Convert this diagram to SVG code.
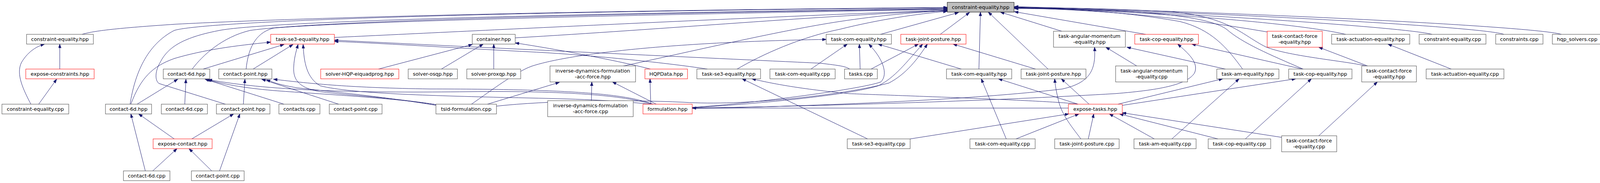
<svg xmlns="http://www.w3.org/2000/svg" width="4106" height="469" viewBox="0 0 4106 469">
<style>
.n rect{fill:#fff;stroke:#404040;stroke-width:1}
.n.r rect{stroke:#ff0000}
.n.t rect{fill:#bfbfbf;stroke:#000}
.n text{font-family:"DejaVu Sans","Liberation Sans",sans-serif;font-size:12.8px;fill:#000;text-anchor:middle}
#edges path{fill:none;stroke:#191970;stroke-width:1;marker-end:url(#a)}
</style>
<defs>
<marker id="a" markerUnits="userSpaceOnUse" markerWidth="11" markerHeight="8" refX="10" refY="3.5" orient="auto"><path d="M0,0L10,3.5L0,7z" fill="#191970" stroke="#191970" stroke-width="1"/></marker>
</defs>
<rect width="4106" height="469" fill="#fff"/>
<g id="edges">
<path d="M210,88 C240,79 300,72 450,62 C800,44 1500,27 2425,19"/>
<path d="M333,267 C345,190 375,115 446,78 C520,55 1200,30 2425,20"/>
<path d="M577,267 L407,214 C395,205 398,180 410,160 C430,120 470,95 567,77 C700,55 1400,35 2425,22"/>
<path d="M492,177 C520,140 570,95 640,78 C800,55 1500,35 2425,23"/>
<path d="M630,177 C635,130 650,85 700,72 C900,55 1600,38 2425,24"/>
<path d="M856,96 C1200,80 1900,45 2425,26"/>
<path d="M1319,97 C1700,75 2100,40 2425,27"/>
<path d="M1592,170 C1800,125 2000,78 2150,55 C2250,40 2350,30 2425,28"/>
<path d="M1887,177 C1950,140 2050,95 2150,75 C2250,50 2350,35 2425,29"/>
<path d="M2254,88 L2454,32"/>
<path d="M2407,88 L2482,32"/>
<path d="M2506,177 L2510,31"/>
<path d="M2683,177 L2530,31"/>
<path d="M2718,80 L2561,31"/>
<path d="M2933,88 L2597,30"/>
<path d="M3181,177 C3140,120 3100,75 3020,55 C2850,25 2700,22 2597,22"/>
<path d="M3336,177 C3250,140 3180,110 3140,75 C3080,30 2800,22 2597,21"/>
<path d="M3500,170 C3460,158 3300,145 3240,120 C3180,90 3150,45 3000,30 C2800,20 2700,20 2597,20"/>
<path d="M3245,82 C3000,40 2800,25 2597,20"/>
<path d="M3445,88 C3300,55 2900,28 2597,19"/>
<path d="M3666,88 C3600,70 3000,30 2597,18"/>
<path d="M3850,88 C3800,70 3200,35 2597,18"/>
<path d="M3997,88 C3940,70 3300,35 2597,17"/>
<path d="M153,177 L153,113"/>
<path d="M79,267 C60,230 40,190 55,160 C70,135 90,120 114,113"/>
<path d="M99,267 L145,203"/>
<path d="M351,267 L455,203"/>
<path d="M473,267 L476,203"/>
<path d="M727,267 L525,203"/>
<path d="M623,267 L627,203"/>
<path d="M867,267 L670,203"/>
<path d="M335,267 C360,200 390,170 446,150 C520,128 600,117 693,108"/>
<path d="M520,177 L727,114"/>
<path d="M648,177 L750,114"/>
<path d="M1116,268 C1000,250 800,240 700,232 C620,225 570,215 530,204"/>
<path d="M1668,267 C1600,245 1450,232 1200,235 C950,238 700,235 533,204"/>
<path d="M1116,270 C1000,250 850,235 760,225 C720,218 700,212 682,204"/>
<path d="M1672,267 C1600,240 1450,228 1100,228 C900,225 800,215 700,203"/>
<path d="M1116,268 C1000,250 900,245 820,235 C760,225 750,200 752,170 C753,150 757,135 763,114"/>
<path d="M1665,267 C1550,255 1450,253 1300,250 C1100,245 900,240 820,220 C785,200 778,160 776,114"/>
<path d="M1248,267 L1432,211"/>
<path d="M1207,267 C1260,230 1320,185 1360,170 C1450,140 1700,108 2115,101"/>
<path d="M1271,272 C1400,258 1600,255 1750,262 C1900,272 2150,245 2275,213 C2320,190 2350,150 2374,113"/>
<path d="M1772,276 C1850,272 2150,250 2248,220 C2290,200 2320,160 2362,113"/>
<path d="M1772,275 C1900,268 2200,230 2255,210 C2275,190 2260,150 2224,113"/>
<path d="M1772,278 C2100,272 2500,255 2720,228 C2790,212 2806,180 2802,121"/>
<path d="M1772,277 C2200,270 2600,255 2854,240 C2980,230 3040,215 3058,187 C3070,160 3040,135 3015,113"/>
<path d="M2735,277 L1772,277"/>
<path d="M1666,267 L1664,202"/>
<path d="M1680,267 L1568,210"/>
<path d="M1514,258 L1515,210"/>
<path d="M1665,177 C1600,160 1450,130 1319,110"/>
<path d="M969,177 L1209,114"/>
<path d="M1130,177 L1237,113"/>
<path d="M1264,177 L1264,113"/>
<path d="M1811,177 C1700,160 1500,140 1360,133 C1200,125 1000,112 856,106"/>
<path d="M2175,177 C2165,170 2150,168 2100,162 C1800,148 1300,125 856,103"/>
<path d="M2461,177 L2248,113"/>
<path d="M2076,177 L2169,113"/>
<path d="M2202,177 L2200,113"/>
<path d="M2230,177 L2351,113"/>
<path d="M2651,177 L2440,113"/>
<path d="M2221,356 L1900,202"/>
<path d="M2760,267 C2700,258 2300,245 2174,240 C2050,228 1980,215 1925,202"/>
<path d="M2760,267 L2556,202"/>
<path d="M2788,267 L2717,202"/>
<path d="M2862,267 L3130,202"/>
<path d="M2873,270 L3317,202"/>
<path d="M2330,356 L2736,292"/>
<path d="M2601,356 L2762,292"/>
<path d="M2786,356 L2800,292"/>
<path d="M2955,356 L2840,292"/>
<path d="M3118,356 L2866,292"/>
<path d="M3281,352 L2873,289"/>
<path d="M2576,356 L2512,202"/>
<path d="M2767,356 C2740,320 2715,290 2708,250 C2703,230 2701,215 2700,202"/>
<path d="M3000,356 L3172,202"/>
<path d="M3188,356 L3357,202"/>
<path d="M3376,348 L3526,210"/>
<path d="M2910,169 L2831,121"/>
<path d="M3137,177 L2885,121"/>
<path d="M3334,177 L3051,113"/>
<path d="M3501,169 L3376,121"/>
<path d="M3715,177 L3553,113"/>
<path d="M446,356 L355,292"/>
<path d="M491,356 L598,292"/>
<path d="M372,438 L335,292"/>
<path d="M391,438 L453,381"/>
<path d="M542,438 L484,381"/>
<path d="M562,438 L614,292"/>
</g>
<g id="n0" class="n t"><rect x="2425" y="6" width="171" height="25"/><text x="2510.5" y="23">constraint-equality.hpp</text></g>
<g id="a1" class="n"><rect x="68" y="88" width="171" height="25"/><text x="153.5" y="105">constraint-equality.hpp</text></g>
<g id="a2" class="n r"><rect x="693" y="88" width="163" height="25"/><text x="774.5" y="105">task-se3-equality.hpp</text></g>
<g id="a3" class="n"><rect x="1209" y="88" width="110" height="25"/><text x="1264" y="105">container.hpp</text></g>
<g id="a4" class="n"><rect x="2115" y="88" width="167" height="25"/><text x="2198.5" y="105">task-com-equality.hpp</text></g>
<g id="a5" class="n r"><rect x="2306" y="88" width="167" height="25"/><text x="2389.5" y="105">task-joint-posture.hpp</text></g>
<g id="a6" class="n"><rect x="2697" y="80" width="184" height="41"/><text x="2789" y="96.5">task-angular-momentum</text><text x="2789" y="111.5">-equality.hpp</text></g>
<g id="a7" class="n r"><rect x="2905" y="88" width="163" height="25"/><text x="2986.5" y="105">task-cop-equality.hpp</text></g>
<g id="a8" class="n r"><rect x="3244" y="80" width="141" height="41"/><text x="3314.5" y="96.5">task-contact-force</text><text x="3314.5" y="111.5">-equality.hpp</text></g>
<g id="a9" class="n"><rect x="3409" y="88" width="200" height="25"/><text x="3509" y="105">task-actuation-equality.hpp</text></g>
<g id="a10" class="n"><rect x="3633" y="88" width="171" height="25"/><text x="3718.5" y="105">constraint-equality.cpp</text></g>
<g id="a11" class="n"><rect x="3829" y="88" width="121" height="25"/><text x="3889.5" y="105">constraints.cpp</text></g>
<g id="a12" class="n"><rect x="3974" y="88" width="127" height="25"/><text x="4037.5" y="105">hqp_solvers.cpp</text></g>
<g id="b1" class="n r"><rect x="66" y="177" width="175" height="25"/><text x="153.5" y="194">expose-constraints.hpp</text></g>
<g id="b2" class="n"><rect x="418" y="177" width="119" height="25"/><text x="477.5" y="194">contact-6d.hpp</text></g>
<g id="b3" class="n"><rect x="560" y="177" width="136" height="25"/><text x="628" y="194">contact-point.hpp</text></g>
<g id="b4" class="n r"><rect x="821" y="177" width="200" height="25"/><text x="921" y="194">solver-HQP-eiquadprog.hpp</text></g>
<g id="b5" class="n"><rect x="1045" y="177" width="126" height="25"/><text x="1108" y="194">solver-osqp.hpp</text></g>
<g id="b6" class="n"><rect x="1195" y="177" width="138" height="25"/><text x="1264" y="194">solver-proxqp.hpp</text></g>
<g id="b7" class="n"><rect x="1408" y="169" width="219" height="41"/><text x="1517.5" y="185.5">inverse-dynamics-formulation</text><text x="1517.5" y="200.5">-acc-force.hpp</text></g>
<g id="b8" class="n r"><rect x="1651" y="177" width="109" height="25"/><text x="1705.5" y="194">HQPData.hpp</text></g>
<g id="b9" class="n"><rect x="1784" y="177" width="163" height="25"/><text x="1865.5" y="194">task-se3-equality.hpp</text></g>
<g id="b10" class="n"><rect x="1971" y="177" width="167" height="25"/><text x="2054.5" y="194">task-com-equality.cpp</text></g>
<g id="b11" class="n"><rect x="2162" y="177" width="84" height="25"/><text x="2204" y="194">tasks.cpp</text></g>
<g id="b12" class="n"><rect x="2423" y="177" width="167" height="25"/><text x="2506.5" y="194">task-com-equality.hpp</text></g>
<g id="b13" class="n"><rect x="2614" y="177" width="166" height="25"/><text x="2697" y="194">task-joint-posture.hpp</text></g>
<g id="b14" class="n"><rect x="2856" y="169" width="184" height="41"/><text x="2948" y="185.5">task-angular-momentum</text><text x="2948" y="200.5">-equality.cpp</text></g>
<g id="b15" class="n"><rect x="3115" y="177" width="159" height="25"/><text x="3194.5" y="194">task-am-equality.hpp</text></g>
<g id="b16" class="n"><rect x="3299" y="177" width="162" height="25"/><text x="3380" y="194">task-cop-equality.hpp</text></g>
<g id="b17" class="n"><rect x="3486" y="169" width="140" height="41"/><text x="3556" y="185.5">task-contact-force</text><text x="3556" y="200.5">-equality.hpp</text></g>
<g id="b18" class="n"><rect x="3651" y="177" width="199" height="25"/><text x="3750.5" y="194">task-actuation-equality.cpp</text></g>
<g id="c1" class="n"><rect x="5" y="267" width="171" height="25"/><text x="90.5" y="284">constraint-equality.cpp</text></g>
<g id="c2" class="n"><rect x="270" y="267" width="118" height="25"/><text x="329" y="284">contact-6d.hpp</text></g>
<g id="c3" class="n"><rect x="413" y="267" width="118" height="25"/><text x="472" y="284">contact-6d.cpp</text></g>
<g id="c4" class="n"><rect x="554" y="267" width="137" height="25"/><text x="622.5" y="284">contact-point.hpp</text></g>
<g id="c5" class="n"><rect x="714" y="267" width="105" height="25"/><text x="766.5" y="284">contacts.cpp</text></g>
<g id="c6" class="n"><rect x="843" y="267" width="135" height="25"/><text x="910.5" y="284">contact-point.cpp</text></g>
<g id="c7" class="n"><rect x="1116" y="267" width="155" height="25"/><text x="1193.5" y="284">tsid-formulation.cpp</text></g>
<g id="c8" class="n"><rect x="1402" y="258" width="219" height="41"/><text x="1511.5" y="274.5">inverse-dynamics-formulation</text><text x="1511.5" y="289.5">-acc-force.cpp</text></g>
<g id="c9" class="n r"><rect x="1646" y="267" width="126" height="25"/><text x="1709" y="284">formulation.hpp</text></g>
<g id="c10" class="n r"><rect x="2735" y="267" width="138" height="25"/><text x="2804" y="284">expose-tasks.hpp</text></g>
<g id="d1" class="n r"><rect x="392" y="356" width="151" height="25"/><text x="467.5" y="373">expose-contact.hpp</text></g>
<g id="d2" class="n"><rect x="2169" y="356" width="161" height="25"/><text x="2249.5" y="373">task-se3-equality.cpp</text></g>
<g id="d3" class="n"><rect x="2483" y="356" width="167" height="25"/><text x="2566.5" y="373">task-com-equality.cpp</text></g>
<g id="d4" class="n"><rect x="2700" y="356" width="165" height="25"/><text x="2782.5" y="373">task-joint-posture.cpp</text></g>
<g id="d5" class="n"><rect x="2903" y="356" width="159" height="25"/><text x="2982.5" y="373">task-am-equality.cpp</text></g>
<g id="d6" class="n"><rect x="3093" y="356" width="160" height="25"/><text x="3173" y="373">task-cop-equality.cpp</text></g>
<g id="d7" class="n"><rect x="3281" y="348" width="141" height="41"/><text x="3351.5" y="364.5">task-contact-force</text><text x="3351.5" y="379.5">-equality.cpp</text></g>
<g id="e1" class="n"><rect x="316" y="438" width="119" height="25"/><text x="375.5" y="455">contact-6d.cpp</text></g>
<g id="e2" class="n"><rect x="490" y="438" width="135" height="25"/><text x="557.5" y="455">contact-point.cpp</text></g>
</svg>
